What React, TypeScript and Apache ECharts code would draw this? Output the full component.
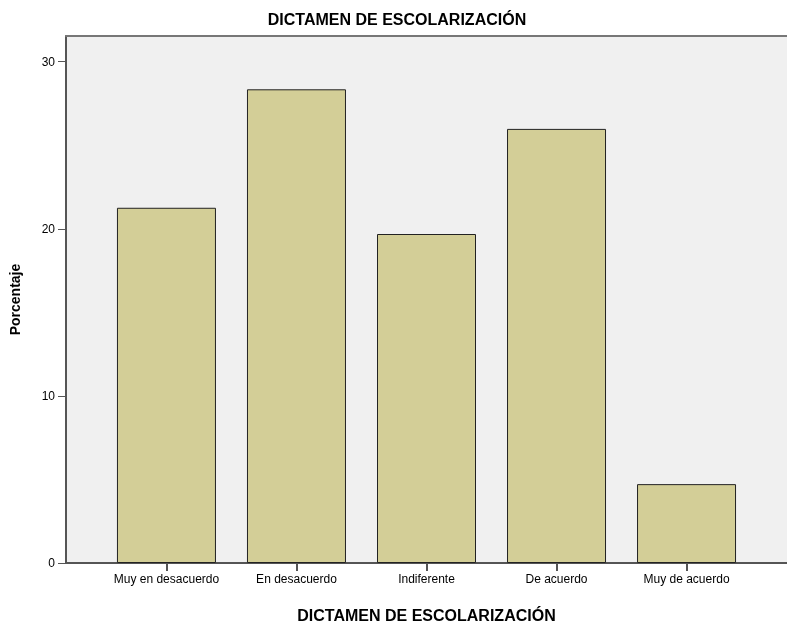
import React, { useEffect, useRef } from "react";
import * as echarts from "echarts";

const categories = ["Muy en desacuerdo", "En desacuerdo", "Indiferente", "De acuerdo", "Muy de acuerdo"];
const percentages = [21.26, 28.35, 19.69, 25.98, 4.72];
const yTicks = [0, 10, 20, 30];
const chartTitle = "DICTAMEN DE ESCOLARIZACIÓN";
const xTitle = "DICTAMEN DE ESCOLARIZACIÓN";
const yTitle = "Porcentaje";

export default function App() {
  const ref = useRef<HTMLDivElement>(null);
  useEffect(() => {
    if (!ref.current) return;
    const chart = echarts.init(ref.current, null, { renderer: "svg" });
    const positions = categories.map((_, i) => i);
    const font = "'Liberation Sans', Arial, sans-serif";
    chart.setOption({
      animation: false,
      title: {
        text: chartTitle,
        left: 392,
        textAlign: "center",
        top: 6,
        textStyle: { fontFamily: font, fontSize: 16, fontWeight: "bold", color: "#000" },
      },
      grid: {
        left: 66,
        right: -11,
        top: 36,
        bottom: 60,
        show: true,
        backgroundColor: "#f0f0f0",
        borderWidth: 0,
        containLabel: false,
      },
      xAxis: [
        {
          type: "value",
          min: -0.7727,
          max: 4.7727,
          name: xTitle,
          nameLocation: "middle",
          nameGap: 44,
          nameTextStyle: { fontFamily: font, fontSize: 16, fontWeight: "bold", color: "#000" },
          axisLine: { show: true, onZero: false, lineStyle: { color: "#555", width: 2 } },
          axisTick: { show: true, length: 8, customValues: positions, lineStyle: { color: "#555", width: 2 } },
          axisLabel: {
            customValues: positions,
            formatter: (v: number) => categories[Math.round(v)] ?? "",
            fontFamily: font,
            fontSize: 12,
            color: "#000",
            margin: 10,
          },
          splitLine: { show: false },
        },
        {
          type: "value",
          position: "top",
          min: -0.7727,
          max: 4.7727,
          axisLine: { show: true, onZero: false, lineStyle: { color: "#777", width: 2 } },
          axisTick: { show: false },
          axisLabel: { show: false },
          splitLine: { show: false },
        },
      ],
      yAxis: {
        type: "value",
        position: "left",
        min: 0,
        max: 31.54,
        name: yTitle,
        nameLocation: "middle",
        nameGap: 44,
        nameRotate: 90,
        nameTextStyle: { fontFamily: font, fontSize: 14, fontWeight: "bold", color: "#000" },
        axisLine: { show: true, onZero: false, lineStyle: { color: "#555", width: 2 } },
        axisTick: { show: true, length: 8, customValues: yTicks, lineStyle: { color: "#555", width: 1 } },
        axisLabel: {
          customValues: yTicks,
          fontFamily: font,
          fontSize: 12,
          color: "#000",
          margin: 11,
        },
        splitLine: { show: false },
      },
      series: [
        {
          type: "bar",
          xAxisIndex: 0,
          barWidth: 99,
          data: percentages.map((v, i) => [i, v]),
          itemStyle: { color: "#d3ce97", borderColor: "#222", borderWidth: 1 },
        },
      ],
    });
    return () => chart.dispose();
  }, []);
  return <div ref={ref} style={{ position: "fixed", left: 0, top: 0, width: 787, height: 628 }} />;
}
